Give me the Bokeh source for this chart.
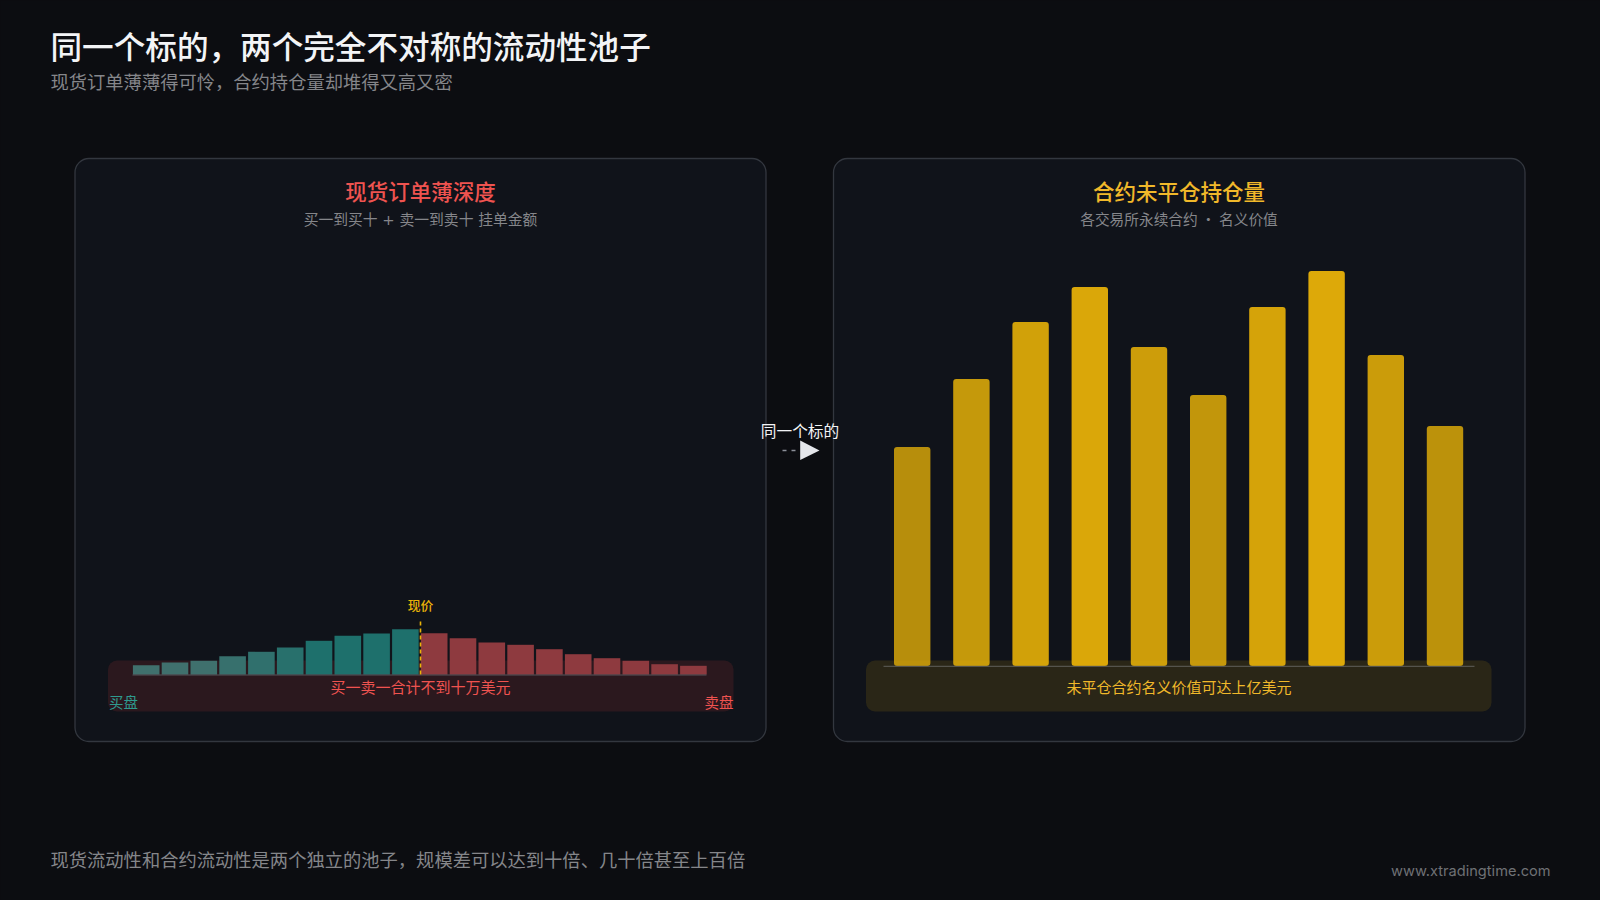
from bokeh.plotting import figure
from bokeh.models import Range1d
from bokeh.core.properties import value
from bokeh.embed import file_html
from bokeh.resources import INLINE

# ---- data (relative units) ----
bid_depth = [9.3, 12.0, 13.7, 18.3, 22.7, 27.0, 33.7, 38.7, 41.0, 45.3]
ask_depth = [41.3, 36.3, 32.0, 29.7, 25.3, 20.3, 16.3, 13.7, 10.3, 8.7]
open_interest = [219, 287, 344, 379, 319, 271, 359, 395, 311, 240]

title_text = "同一个标的，两个完全不对称的流动性池子"
subtitle_text = "现货订单薄薄得可怜，合约持仓量却堆得又高又密"
footer_text = "现货流动性和合约流动性是两个独立的池子，规模差可以达到十倍、几十倍甚至上百倍"
site_text = "www.xtradingtime.com"
left_title = "现货订单薄深度"
left_sub = "买一到买十 + 卖一到卖十 挂单金额"
left_note = "买一卖一合计不到十万美元"
right_title = "合约未平仓持仓量"
right_sub = "各交易所永续合约 · 名义价值"
right_note = "未平仓合约名义价值可达上亿美元"
bridge_text = "同一个标的"

# ---- layout: page pixels ----
BG = "#0c0d11"
W, H = 1600, 900
X0, Y0 = 1, 1
FONT = value("Noto Sans CJK SC")
FONT_MED = value("Noto Sans CJK SC Medium")
FONT_MIX = value("DejaVu Sans, Noto Sans CJK SC")

p = figure(width=W, height=H, output_backend="svg", toolbar_location=None,
           x_range=Range1d(X0, X0 + W), y_range=Range1d(Y0 + H, Y0),
           min_border=0, background_fill_color=BG, border_fill_color=BG,
           outline_line_color=None, x_axis_location=None, y_axis_location=None)
p.grid.visible = False
p.axis.visible = False
p.styles = {"background-color": BG}


def linear_x(name, px0, pitch):
    p.extra_x_ranges[name] = Range1d((X0 - px0) / pitch, (X0 + W - px0) / pitch)


def linear_y(name, base):
    p.extra_y_ranges[name] = Range1d(base - (Y0 + H), base - Y0)


def label(x, y, s, size, color, align="center", font=FONT):
    p.text([x], [y], text=[s], text_font=font, text_font_size=size, text_color=color,
           text_align=align, text_baseline="middle")


def panel(l, r, t, b):
    p.quad(left=[l], right=[r], top=[t], bottom=[b], fill_color="#10131a",
           line_color="#33373f", line_width=1.3, border_radius=14)


def mix(a, b, t):
    return "#" + "".join(f"{round(x + (y - x) * t):02x}" for x, y in zip(a, b))


panel(75.5, 766.5, 159, 742)
panel(834, 1525.5, 159, 742)

# left: order-book bars over their band
p.quad(left=[108.5], right=[734], top=[661], bottom=[712], fill_color="#ef4444",
       fill_alpha=0.12, line_color=None, border_radius=9)
pitch_l, width_l = 28.8, 26.6
base_l = 675
linear_x("book", 133.4 + width_l / 2, pitch_l)
linear_y("depth", base_l)
bid_x = list(range(len(bid_depth)))
ask_x = [len(bid_depth) + i for i in range(len(ask_depth))]
bid_colors = [mix((0x40, 0x70, 0x6d), (0x1e, 0x70, 0x6c), min(1, max(0, (v - 13) / 20))) for v in bid_depth]
p.vbar(x=bid_x, top=bid_depth, bottom=0, width=width_l / pitch_l, x_range_name="book",
       y_range_name="depth", fill_color=bid_colors, line_color=None)
p.vbar(x=ask_x, top=ask_depth, bottom=0, width=width_l / pitch_l, x_range_name="book",
       y_range_name="depth", fill_color="#8e3a3f", line_color=None)
p.segment(x0=[133], x1=[707], y0=[675.5], y1=[675.5], line_color="#6b6f76",
          line_width=1, line_alpha=0.7)
p.segment(x0=[421], x1=[421], y0=[622], y1=[675], line_color="#eab308",
          line_width=1.6, line_dash="4 3")
label(421, 604.5, "现价", "12.8px", "#eab308", font=FONT_MED)
label(421, 687, left_note, "15px", "#ef5350")
label(109.5, 702, "买盘", "14.5px", "#2f9a8e", align="left")
label(734, 702, "卖盘", "14.5px", "#ef5350", align="right")

# right: open-interest bars
pitch_r, width_r = 59.2, 36.4
base_r = 666.5
linear_x("venue", 894.5 + width_r / 2, pitch_r)
linear_y("oi", base_r)
p.quad(left=[866.5], right=[1492], top=[661], bottom=[712], fill_color="#eab308",
       fill_alpha=0.12, line_color=None, border_radius=9)
oi_alpha = [0.77 + 0.17 * (v - min(open_interest)) / (max(open_interest) - min(open_interest))
            for v in open_interest]
p.vbar(x=list(range(len(open_interest))), top=open_interest, bottom=0,
       width=width_r / pitch_r, x_range_name="venue", y_range_name="oi",
       fill_color="#eab308", fill_alpha=oi_alpha, line_color=None, border_radius=3)
p.segment(x0=[884], x1=[1475], y0=[666.8], y1=[666.8], line_color="#5f5f5a", line_width=1)
label(1179.5, 687, right_note, "15px", "#f0b82a")

# panel heads
label(421, 190.5, left_title, "21.5px", "#ef5350", font=FONT_MED)
label(421, 219.5, left_sub, "14.8px", "#85868a", font=FONT_MIX)
label(1179.5, 190.5, right_title, "21.5px", "#f0b82a", font=FONT_MED)
label(1179.5, 218.5, right_sub, "14.7px", "#85868a")

# bridge between the panels
label(800.5, 430.5, bridge_text, "15.7px", "#f3f4f6")
p.segment(x0=[783, 792], x1=[787, 796], y0=[451, 451], y1=[451, 451], line_color="#8b8f98",
          line_width=1.5)
p.patch(x=[800.7, 820, 800.7], y=[441, 451, 460.5], fill_color="#e5e7eb", line_color=None)

# page heads and foot
label(51, 45.5, title_text, "31.6px", "#f3f4f6", align="left", font=FONT_MED)
label(51, 81, subtitle_text, "18.3px", "#85868a", align="left")
label(51, 859, footer_text, "18.3px", "#85868a", align="left")
label(1551, 871.5, site_text, "14.6px", "#6f7175", align="right", font=value("Inter"))

page_style = f'<body style="margin:0;overflow:hidden;background:{BG}">'
html = file_html(p, INLINE).replace("<body>", page_style, 1)
open("out.html", "w").write(html)
